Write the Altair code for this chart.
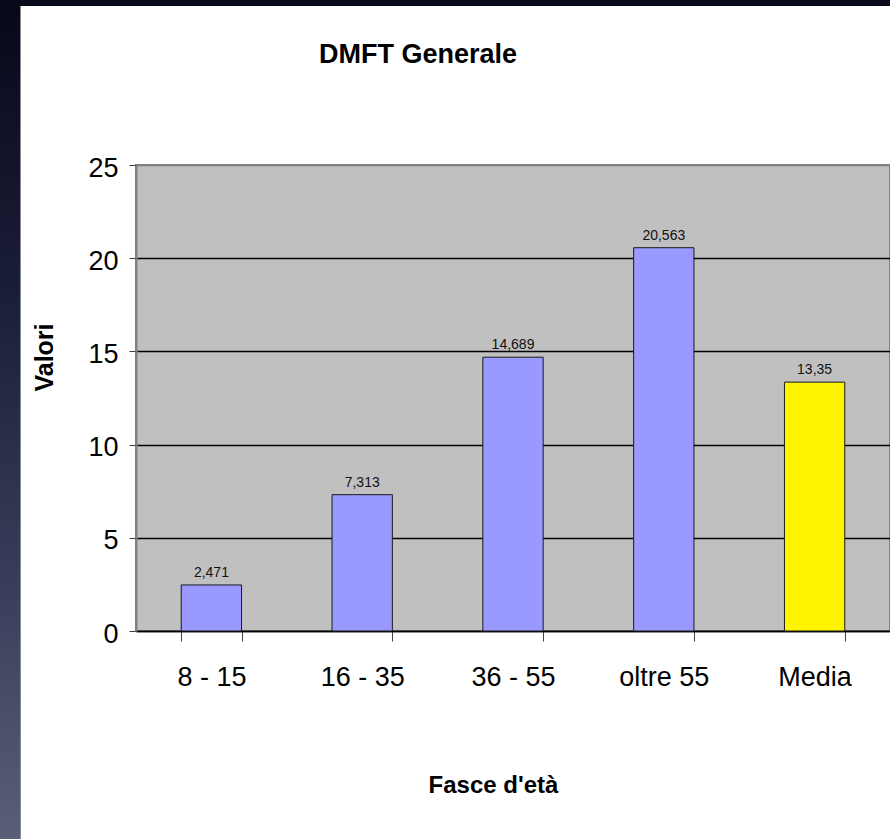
import altair as alt
import pandas as pd

# ---- data ----
categories = ["8 - 15", "16 - 35", "36 - 55", "oltre 55", "Media"]
values = [2.471, 7.313, 14.689, 20.563, 13.35]
value_labels = ["2,471", "7,313", "14,689", "20,563", "13,35"]
bar_colors = ["#9999FF", "#9999FF", "#9999FF", "#9999FF", "#FFF500"]
y_ticks = [0, 5, 10, 15, 20, 25]

df = pd.DataFrame({
    "Fascia": categories,
    "Valore": values,
    "Etichetta": value_labels,
    "Colore": bar_colors,
})

FONT = "Liberation Sans, Arial, sans-serif"
W, H = 754, 466
PL, PT = 136, 165

x_enc = alt.X(
    "Fascia:N",
    sort=categories,
    scale=alt.Scale(paddingInner=0.6, paddingOuter=0.3),
    axis=alt.Axis(
        title="Fasce d'età",
        labelAngle=0,
        tickBand="extent",
        tickSize=10,
        tickColor="#404040",
        tickWidth=1,
        domainColor="black",
        domainWidth=1.5,
        labelFont=FONT,
        labelFontSize=27,
        labelColor="black",
        labelPadding=23,
        titleFont=FONT,
        titleFontSize=24,
        titleFontWeight="bold",
        titleColor="black",
        titleX=357,
        titleY=154,
        titleBaseline="middle",
    ),
)

y_enc = alt.Y(
    "Valore:Q",
    scale=alt.Scale(domain=[0, 25], nice=False),
    axis=alt.Axis(
        values=y_ticks,
        title="Valori",
        grid=True,
        gridColor=alt.condition("datum.value == 25", alt.value("#808080"), alt.value("black")),
        gridWidth=1.3,
        domainColor="#808080",
        domainWidth=2,
        tickSize=7,
        tickColor="#404040",
        labelFont=FONT,
        labelFontSize=27,
        labelColor="black",
        labelPadding=11,
        labelOffset=3,
        titleFont=FONT,
        titleFontSize=25,
        titleFontWeight="bold",
        titleColor="black",
        titleX=-92,
        titleY=192,
        titleAngle=270,
        titleBaseline="middle",
    ),
)

base = alt.Chart(df)

bars = base.mark_bar(stroke="#1a1a1a", strokeWidth=1).encode(
    x=x_enc,
    y=y_enc,
    color=alt.Color("Colore:N", scale=None),
)

labels = base.mark_text(
    font=FONT, fontSize=14, baseline="alphabetic", dy=-8, color="#111111"
).encode(
    x=x_enc,
    y=y_enc,
    text="Etichetta:N",
)

# decorative slide background (dark frame around the white panel)
deco = alt.Data(values=[{"k": 1}])
top_strip = alt.Chart(deco).mark_rect(color="#0a0b1d").encode(
    x=alt.value(-PL), x2=alt.value(W), y=alt.value(-PT), y2=alt.value(-PT + 6)
)
grad = alt.LinearGradient(
    gradient="linear",
    stops=[
        alt.GradientStop(color="#07081a", offset=0),
        alt.GradientStop(color="#1b1e38", offset=0.35),
        alt.GradientStop(color="#3a3e5a", offset=0.7),
        alt.GradientStop(color="#5a5e78", offset=1),
    ],
    x1=0, x2=0, y1=0, y2=1,
)
left_strip = alt.Chart(deco).mark_rect(color=grad).encode(
    x=alt.value(-PL), x2=alt.value(-PL + 20), y=alt.value(-PT), y2=alt.value(839 - PT)
)
panel_edge = alt.Chart(deco).mark_rule(color="#8a8a92", strokeWidth=1).encode(
    x=alt.value(-PL + 20.5), y=alt.value(-PT + 6), y2=alt.value(839 - PT)
)

chart = alt.layer(top_strip, left_strip, panel_edge, bars, labels).properties(
    width=W,
    height=H,
    autosize=alt.AutoSizeParams(type="none"),
    padding={"left": PL, "top": PT, "right": 0, "bottom": 839 - PT - H},
    background="white",
    title=alt.TitleParams(
        text="DMFT Generale",
        anchor="middle",
        frame="group",
        dx=-95,
        offset=-82,
        baseline="middle",
        font=FONT,
        fontSize=27,
        fontWeight="bold",
        color="black",
    ),
).configure_view(
    fill="#C0C0C0", stroke="#808080", strokeWidth=2
)

chart.save("out.html", embed_options={"renderer": "svg", "actions": False})
